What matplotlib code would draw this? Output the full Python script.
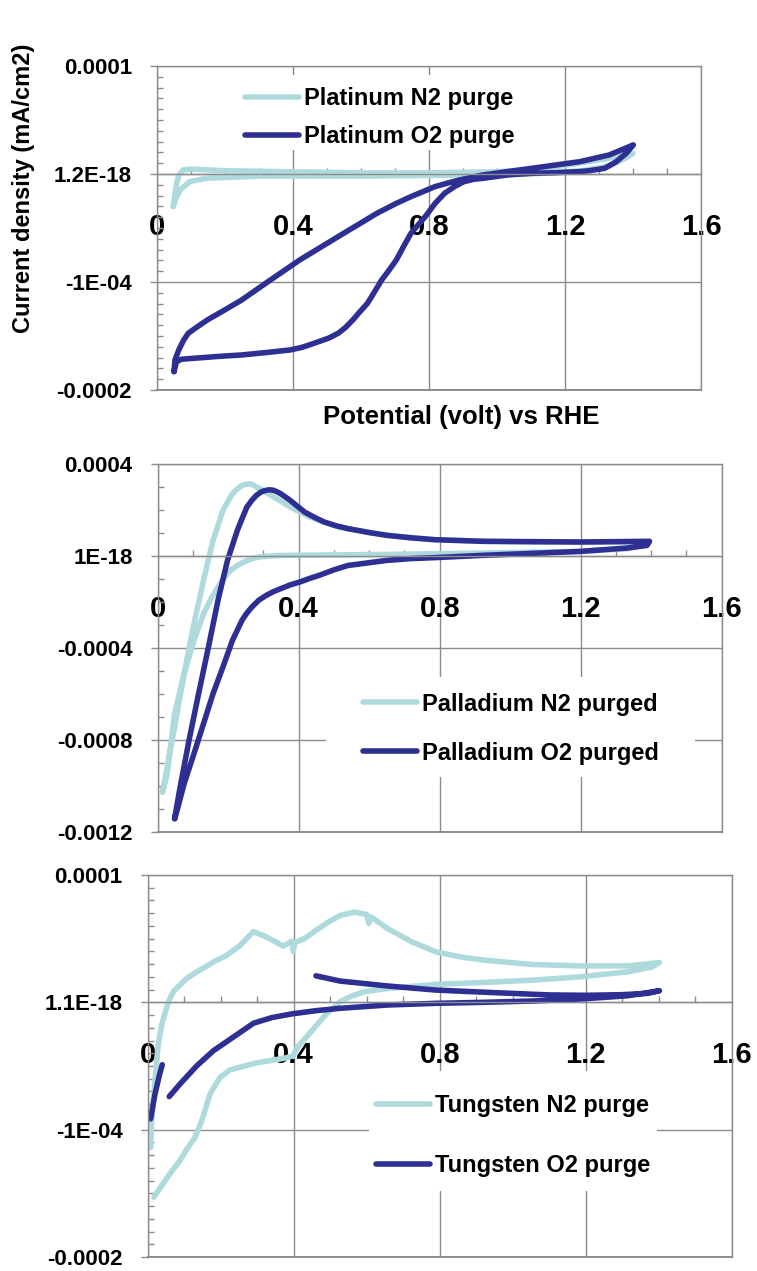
import numpy as np
import matplotlib
matplotlib.use("Agg")
import matplotlib.pyplot as plt
from matplotlib.patches import Rectangle
from matplotlib.ticker import MultipleLocator

plt.rcParams['font.family'] = ['Liberation Sans', 'DejaVu Sans']
plt.rcParams['font.weight'] = 'bold'

SCALE = 1e-4  # current values below are in units of 1e-4 mA/cm2

# ---------------- Platinum ----------------
pt_n2_x = [0.048, 0.052, 0.058, 0.065, 0.077, 0.10, 0.2, 0.4, 0.6, 0.8, 1.0, 1.1, 1.2, 1.3, 1.36, 1.40,
           1.38, 1.33, 1.25, 1.1, 0.9, 0.6, 0.3, 0.146, 0.097, 0.068, 0.055, 0.048]
pt_n2_y = [-0.30, -0.20, -0.08, -0.01, 0.037, 0.045, 0.03, 0.02, 0.01, 0.01, 0.02, 0.04, 0.08, 0.13, 0.165, 0.19,
           0.15, 0.07, 0.03, 0.0, -0.01, -0.02, -0.02, -0.04, -0.07, -0.148, -0.23, -0.30]

pt_o2_x = [0.050, 0.053, 0.064, 0.078, 0.092, 0.121, 0.149, 0.199, 0.249, 0.334, 0.420, 0.533, 0.647, 0.704,
           0.747, 0.782, 0.818, 0.853, 0.889, 0.960, 1.031, 1.102, 1.173, 1.244, 1.330, 1.401,
           1.380, 1.351, 1.316, 1.273, 1.244, 1.173, 1.102, 1.031, 0.960, 0.932, 0.903, 0.875, 0.846, 0.818,
           0.789, 0.768, 0.747, 0.725, 0.704, 0.683, 0.661, 0.640, 0.619, 0.597, 0.576, 0.555, 0.533, 0.505,
           0.462, 0.427, 0.391, 0.320, 0.249, 0.178, 0.107, 0.071, 0.057, 0.050]
pt_o2_y = [-1.83, -1.72, -1.63, -1.54, -1.475, -1.41, -1.35, -1.26, -1.167, -0.981, -0.796, -0.580, -0.364, -0.272,
           -0.210, -0.164, -0.117, -0.086, -0.056, -0.009, 0.022, 0.052, 0.083, 0.114, 0.176, 0.269,
           0.191, 0.114, 0.052, 0.031, 0.022, 0.012, 0.006, -0.009, -0.040, -0.049, -0.071, -0.117, -0.179, -0.272,
           -0.395, -0.472, -0.549, -0.673, -0.796, -0.889, -0.981, -1.09, -1.198, -1.275, -1.352, -1.42, -1.475, -1.52,
           -1.568, -1.605, -1.630, -1.654, -1.676, -1.69, -1.707, -1.716, -1.74, -1.83]

# ---------------- Palladium ----------------
pd_n2_x = [0.014, 0.027, 0.048, 0.075, 0.103, 0.130, 0.157, 0.185, 0.212, 0.226, 0.239, 0.250, 0.260, 0.270,
           0.280, 0.300, 0.321, 0.350, 0.376, 0.431, 0.513, 0.650, 0.786, 0.923, 1.060, 1.197, 1.333, 1.395,
           1.388, 1.333, 1.197, 0.923, 0.650, 0.376, 0.340, 0.308, 0.285, 0.267, 0.245, 0.226, 0.210, 0.198,
           0.185, 0.171, 0.150, 0.130, 0.103, 0.075, 0.048, 0.027, 0.014]
pd_n2_y = [-10.26, -9.17, -7.43, -5.12, -2.94, -1.06, 0.68, 1.99, 2.71, 2.92, 3.07, 3.12, 3.14, 3.10,
           3.0, 2.85, 2.64, 2.38, 2.13, 1.70, 1.26, 0.90, 0.71, 0.64, 0.61, 0.61, 0.61, 0.61,
           0.51, 0.32, 0.20, 0.13, 0.07, 0.03, 0.02, -0.01, -0.05, -0.12, -0.25, -0.41, -0.58, -0.77,
           -1.0, -1.35, -1.9, -2.51, -3.67, -5.12, -6.86, -9.46, -10.26]

pd_o2_x = [0.048, 0.062, 0.089, 0.116, 0.144, 0.171, 0.198, 0.226, 0.240, 0.253, 0.267, 0.280, 0.295, 0.308,
           0.318, 0.328, 0.338, 0.349, 0.362, 0.376, 0.395, 0.417, 0.445, 0.472, 0.505, 0.540, 0.600, 0.650,
           0.720, 0.786, 0.923, 1.197, 1.395,
           1.388, 1.333, 1.197, 0.923, 0.786, 0.720, 0.650, 0.600, 0.540, 0.500, 0.458, 0.430, 0.403, 0.375,
           0.349, 0.328, 0.308, 0.287, 0.267, 0.252, 0.239, 0.212, 0.185, 0.157, 0.130, 0.103, 0.075, 0.055,
           0.048]
pd_o2_y = [-11.42, -10.19, -8.01, -5.99, -3.96, -1.93, -0.19, 1.12, 1.65, 2.13, 2.42, 2.64, 2.80, 2.86,
           2.88, 2.86, 2.80, 2.71, 2.57, 2.42, 2.18, 1.91, 1.68, 1.48, 1.32, 1.19, 1.02, 0.90,
           0.79, 0.71, 0.64, 0.61, 0.64,
           0.46, 0.35, 0.20, 0.03, -0.07, -0.11, -0.19, -0.29, -0.41, -0.60, -0.84, -0.98, -1.13, -1.26,
           -1.42, -1.55, -1.71, -1.92, -2.22, -2.50, -2.80, -3.67, -4.83, -5.99, -7.29, -8.59, -9.90, -11.06,
           -11.42]

# ---------------- Tungsten ----------------
w_n2_x = [0.008, 0.011, 0.020, 0.029, 0.038, 0.056, 0.070, 0.088, 0.107, 0.134, 0.160, 0.180, 0.216, 0.253,
          0.289, 0.317, 0.344, 0.371, 0.395, 0.399, 0.403, 0.430, 0.461, 0.495, 0.527, 0.566, 0.600, 0.606,
          0.612, 0.658, 0.724, 0.790, 0.860, 0.922, 1.053, 1.185, 1.317, 1.402,
          1.383, 1.317, 1.185, 1.053, 0.922, 0.790, 0.658, 0.593, 0.555, 0.527, 0.487, 0.448, 0.408, 0.399,
          0.372, 0.299, 0.226, 0.198, 0.171, 0.148, 0.130, 0.110, 0.089, 0.065, 0.043, 0.017]
w_n2_y = [-1.14, -0.93, -0.62, -0.33, -0.18, 0.0, 0.083, 0.135, 0.187, 0.239, 0.28, 0.317, 0.368, 0.446,
          0.555, 0.524, 0.485, 0.441, 0.48, 0.40, 0.47, 0.50, 0.565, 0.63, 0.682, 0.708, 0.69, 0.62,
          0.67, 0.578, 0.474, 0.396, 0.355, 0.331, 0.297, 0.286, 0.286, 0.3125,
          0.279, 0.240, 0.200, 0.174, 0.156, 0.141, 0.109, 0.083, 0.045, 0.005, -0.099, -0.229, -0.36, -0.42,
          -0.44, -0.475, -0.53, -0.59, -0.72, -0.93, -1.06, -1.14, -1.24, -1.33, -1.42, -1.53]

w_o2_x = [0.008, 0.020, 0.034, 0.040, np.nan,
          0.059, 0.089, 0.134, 0.180, 0.226, 0.290, 0.340, 0.395, 0.460, 0.527, 0.658, 0.790, 0.922, 1.053,
          1.185, 1.317, 1.402,
          1.369, 1.30, 1.20, 1.10, 1.00, 0.900, 0.790, 0.658, 0.527, 0.461]
w_o2_y = [-0.915, -0.72, -0.55, -0.49, np.nan,
          -0.74, -0.64, -0.50, -0.38, -0.29, -0.164, -0.12, -0.091, -0.066, -0.047, -0.021, -0.008, 0.0, 0.010,
          0.026, 0.052, 0.091,
          0.07, 0.06, 0.055, 0.058, 0.07, 0.082, 0.096, 0.128, 0.167, 0.208]

x_ticks = [0, 0.4, 0.8, 1.2, 1.6]
x_ticklabels = ['0', '0.4', '0.8', '1.2', '1.6']

panels = [
    dict(rect=[0.2074, 0.6932, 0.7186, 0.2549], ylim=(-2, 1), yticks=[1, 0, -1, -2],
         ylabels=['0.0001', '1.2E-18', '-1E-04', '-0.0002'], yminor=0.1,
         series=[(pt_n2_x, pt_n2_y, 'Platinum N2 purge'), (pt_o2_x, pt_o2_y, 'Platinum O2 purge')],
         leg_anchor=(0.162, 0.934), leg_spacing=0.64, box=(0.143, 0.741, 0.667 - 0.143, 0.972 - 0.741)),
    dict(rect=[0.2083, 0.3454, 0.7451, 0.2895], ylim=(-12, 4), yticks=[4, 0, -4, -8, -12],
         ylabels=['0.0004', '1E-18', '-0.0004', '-0.0008', '-0.0012'], yminor=1,
         series=[(pd_n2_x, pd_n2_y, 'Palladium N2 purged'), (pd_o2_x, pd_o2_y, 'Palladium O2 purged')],
         leg_anchor=(0.364, 0.379), leg_spacing=1.10, box=(0.298, 0.149, 0.953 - 0.298, 0.421 - 0.149)),
    dict(rect=[0.1951, 0.0110, 0.7715, 0.3006], ylim=(-2, 1), yticks=[1, 0, -1, -2],
         ylabels=['0.0001', '1.1E-18', '-1E-04', '-0.0002'], yminor=0.1,
         series=[(w_n2_x, w_n2_y, 'Tungsten N2 purge'), (w_o2_x, w_o2_y, 'Tungsten O2 purge')],
         leg_anchor=(0.391, 0.427), leg_spacing=1.57, box=(0.379, 0.174, 0.872 - 0.379, 0.486 - 0.174)),
]

LIGHT = '#AEDADE'
DARK = '#2D3092'
GRID = '#8C8C8C'

fig = plt.figure(figsize=(7.57, 12.71), dpi=100)

for p in panels:
    ax = fig.add_axes(p['rect'])
    ax.set_xlim(0, 1.6)
    ax.set_ylim(p['ylim'][0] * SCALE, p['ylim'][1] * SCALE)
    ax.set_axisbelow(True)
    ax.grid(True, which='major', color=GRID, linewidth=1.0)

    ax.set_xticks(x_ticks)
    ax.set_xticklabels(x_ticklabels)
    ax.xaxis.set_minor_locator(MultipleLocator(0.1))
    ax.set_yticks([v * SCALE for v in p['yticks']])
    ax.set_yticklabels(p['ylabels'])
    ax.yaxis.set_minor_locator(MultipleLocator(p['yminor'] * SCALE))

    ax.spines['bottom'].set_position(('data', 0))
    for s in ['bottom', 'left', 'right', 'top']:
        ax.spines[s].set_color(GRID)
        ax.spines[s].set_linewidth(1.0)
    ax.axhline(p['ylim'][0] * SCALE, color=GRID, linewidth=1.4, clip_on=False, zorder=0.6)

    ax.tick_params(axis='x', which='major', length=0, pad=28, labelsize=21)
    ax.tick_params(axis='x', which='minor', direction='in', length=4.5, width=1.0, color=GRID)
    ax.tick_params(axis='y', which='major', direction='out', length=5, width=1.0, color=GRID,
                   pad=13, labelsize=16)
    ax.tick_params(axis='y', which='minor', direction='in', length=4.5, width=1.0, color=GRID)
    for lab in ax.get_xticklabels() + ax.get_yticklabels():
        lab.set_fontweight('bold')

    bx, by, bw, bh = p['box']
    ax.add_patch(Rectangle((bx, by), bw, bh, transform=ax.transAxes, facecolor='white',
                           edgecolor='none', zorder=0.8))

    handles = []
    for (xs, ys, lab), col in zip(p['series'], [LIGHT, DARK]):
        yv = np.array(ys, dtype=float) * SCALE
        h, = ax.plot(xs, yv, color=col, linewidth=4.0, solid_capstyle='round',
                     solid_joinstyle='round', label=lab, zorder=2)
        handles.append(h)

    leg = ax.legend(handles=handles, loc='upper left', bbox_to_anchor=p['leg_anchor'],
                    frameon=False, borderpad=0, borderaxespad=0, handlelength=2.3,
                    handletextpad=0.2, labelspacing=p['leg_spacing'],
                    prop={'family': 'Liberation Sans', 'weight': 'bold', 'size': 17})

fig.text(24 / 757, 1 - 188 / 1271, 'Current density (mA/cm2)', rotation=90, ha='center', va='center',
         fontsize=17, fontweight='bold')
fig.text(461.5 / 757, 1 - 417 / 1271, 'Potential (volt) vs RHE', ha='center', va='center',
         fontsize=18.5, fontweight='bold')

fig.savefig('out.png', dpi=100)
